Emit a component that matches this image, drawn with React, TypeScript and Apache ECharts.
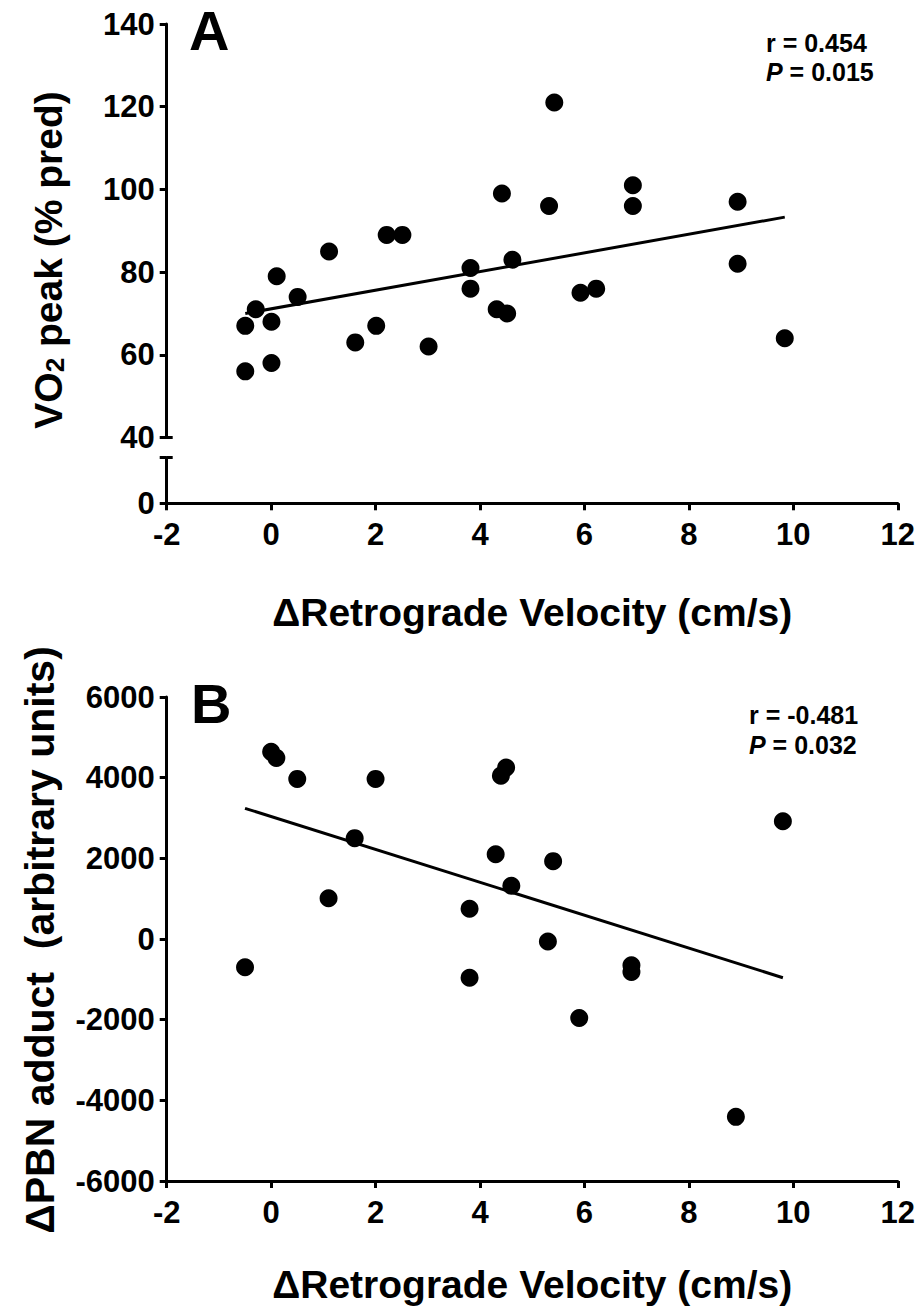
import React, { useEffect, useRef } from "react";
import * as echarts from "echarts";

// ---- Data ----
const velA = [-0.5, -0.5, -0.3, 0, 0, 0.1, 0.5, 1.1, 1.6, 2.0, 2.2, 2.5, 3.0, 3.8, 3.8, 4.3, 4.5, 4.4, 4.6, 5.3, 5.4, 5.9, 6.2, 6.9, 6.9, 8.9, 8.9, 9.8];
const vo2A = [67, 56, 71, 68, 58, 79, 74, 85, 63, 67, 89, 89, 62, 81, 76, 71, 70, 99, 83, 96, 121, 75, 76, 101, 96, 97, 82, 64];
const fitAx = [-0.5, 9.8];
const fitAy = [70, 93.3];

const velB = [-0.5, 0, 0.1, 0.5, 1.1, 1.6, 2.0, 3.8, 3.8, 4.3, 4.4, 4.5, 4.6, 5.3, 5.4, 5.9, 6.9, 6.9, 8.9, 9.8];
const pbnB = [-700, 4640, 4490, 3970, 1010, 2500, 3970, 750, -960, 2100, 4050, 4250, 1320, -60, 1930, -1960, -650, -820, -4410, 2920];
const fitBx = [-0.5, 9.8];
const fitBy = [3240, -960];

const xMin = -2;
const xMax = 12;
const xStep = 2;
const yAUpper = [40, 140, 20];
const yALower = [0, 11];
const yB = [-6000, 6000, 2000];

const statsA = ["r = 0.454", "{i|P} = 0.015"];
const statsB = ["r = -0.481", "{i|P} = 0.032"];
const xTitle = "\u0394Retrograde Velocity (cm/s)";
const yTitleB = "\u0394PBN adduct  (arbitrary units)";

const FONT = "'Liberation Sans', Arial, Helvetica, sans-serif";
const BLACK = "#000";

const zip = (xs: number[], ys: number[]) => xs.map((x, i) => [x, ys[i]]);

export default function App() {
  const ref = useRef<HTMLDivElement>(null);
  useEffect(() => {
    if (!ref.current) return;
    const chart = echarts.init(ref.current, null, { renderer: "svg" });

    const gx = 166.7;
    const gw = 733.3;
    const labelStyle = { color: BLACK, fontFamily: FONT, fontWeight: "bold" as const, fontSize: 31 };
    const lineStyle = { color: BLACK, width: 3 };
    const titleFont = 39;

    const xAxisVisible = (grid: number, gap: number) => ({
      type: "value",
      gridIndex: grid,
      min: xMin,
      max: xMax,
      interval: xStep,
      axisLine: { show: true, onZero: false, lineStyle },
      axisTick: { show: true, length: 7, lineStyle },
      axisLabel: { ...labelStyle, margin: 16 },
      splitLine: { show: false },
      name: xTitle,
      nameLocation: "middle",
      nameGap: gap,
      nameTextStyle: { color: BLACK, fontFamily: FONT, fontWeight: "bold", fontSize: titleFont },
    });

    const richTitle = {
      n: { fontFamily: FONT, fontWeight: "bold", fontSize: titleFont, lineHeight: 46, fill: BLACK, verticalAlign: "bottom" },
      s: { fontFamily: FONT, fontWeight: "bold", fontSize: 26, lineHeight: 38, fill: BLACK, verticalAlign: "bottom" },
    };

    const statText = (t: string, x: number, y: number) => ({
      type: "text",
      x,
      y,
      style: {
        text: t,
        fontFamily: FONT,
        fontWeight: "bold",
        fontSize: 25,
        fill: BLACK,
        align: "left",
        verticalAlign: "middle",
        rich: { i: { fontFamily: FONT, fontWeight: "bold", fontStyle: "italic", fontSize: 25, fill: BLACK } },
      },
    });

    const option: any = {
      animation: false,
      grid: [
        { left: gx, top: 24, width: gw, height: 413.5 },
        { left: gx, top: 457.7, width: gw, height: 45.6 },
        { left: gx, top: 697, width: gw, height: 484 },
      ],
      xAxis: [
        { type: "value", gridIndex: 0, min: xMin, max: xMax, interval: xStep, show: false },
        xAxisVisible(1, 90),
        xAxisVisible(2, 84),
      ],
      yAxis: [
        {
          type: "value",
          gridIndex: 0,
          position: "left",
          min: yAUpper[0],
          max: yAUpper[1],
          interval: yAUpper[2],
          axisLine: { show: true, onZero: false, lineStyle },
          axisTick: { show: true, length: 7, lineStyle },
          axisLabel: { ...labelStyle, margin: 12 },
          splitLine: { show: false },
        },
        {
          type: "value",
          gridIndex: 0,
          position: "left",
          min: yAUpper[0],
          max: yAUpper[1],
          axisLine: { show: false, onZero: false },
          axisTick: { show: true, inside: true, length: 6, lineStyle, customValues: [yAUpper[0]] },
          axisLabel: { show: false },
          splitLine: { show: false },
        },
        {
          type: "value",
          gridIndex: 1,
          position: "left",
          min: yALower[0],
          max: yALower[1],
          interval: yALower[1],
          axisLine: { show: true, onZero: false, lineStyle },
          axisTick: { show: true, length: 7, lineStyle },
          axisLabel: { ...labelStyle, margin: 12, formatter: (v: number) => (v === 0 ? "0" : "") },
          splitLine: { show: false },
        },
        {
          type: "value",
          gridIndex: 1,
          position: "left",
          min: yALower[0],
          max: yALower[1],
          axisLine: { show: false, onZero: false },
          axisTick: { show: true, inside: true, length: 6, lineStyle, customValues: [yALower[1]] },
          axisLabel: { show: false },
          splitLine: { show: false },
        },
        {
          type: "value",
          gridIndex: 2,
          position: "left",
          min: yB[0],
          max: yB[1],
          interval: yB[2],
          axisLine: { show: true, onZero: false, lineStyle },
          axisTick: { show: true, length: 7, lineStyle },
          axisLabel: { ...labelStyle, margin: 12, formatter: (v: number) => String(v) },
          splitLine: { show: false },
        },
      ],
      series: [
        {
          type: "line",
          xAxisIndex: 0,
          yAxisIndex: 0,
          data: zip(fitAx, fitAy),
          showSymbol: false,
          symbol: "none",
          lineStyle: { color: BLACK, width: 3 },
          z: 2,
        },
        {
          type: "scatter",
          xAxisIndex: 0,
          yAxisIndex: 0,
          data: zip(velA, vo2A),
          symbol: "circle",
          symbolSize: 18,
          itemStyle: { color: BLACK, opacity: 1 },
          z: 3,
        },
        {
          type: "line",
          xAxisIndex: 2,
          yAxisIndex: 4,
          data: zip(fitBx, fitBy),
          showSymbol: false,
          symbol: "none",
          lineStyle: { color: BLACK, width: 3 },
          z: 2,
        },
        {
          type: "scatter",
          xAxisIndex: 2,
          yAxisIndex: 4,
          data: zip(velB, pbnB),
          symbol: "circle",
          symbolSize: 18,
          itemStyle: { color: BLACK, opacity: 1 },
          z: 3,
        },
      ],
      graphic: [
        {
          type: "text",
          x: 45,
          y: 260,
          rotation: Math.PI / 2,
          style: {
            text: "{n|VO}{s|2}{n| peak (% pred)}",
            align: "center",
            verticalAlign: "middle",
            fill: BLACK,
            rich: richTitle,
          },
        },
        {
          type: "text",
          x: 40,
          y: 940,
          rotation: Math.PI / 2,
          style: {
            text: yTitleB,
            fontFamily: FONT,
            fontWeight: "bold",
            fontSize: 41,
            fill: BLACK,
            align: "center",
            verticalAlign: "middle",
          },
        },
        {
          type: "text",
          x: 189,
          y: 30,
          style: { text: "A", fontFamily: FONT, fontWeight: "bold", fontSize: 56, fill: BLACK, align: "left", verticalAlign: "middle" },
        },
        {
          type: "text",
          x: 191,
          y: 703,
          style: { text: "B", fontFamily: FONT, fontWeight: "bold", fontSize: 56, fill: BLACK, align: "left", verticalAlign: "middle" },
        },
        ...statsA.map((t, i) => statText(t, 766, 43 + i * 29)),
        ...statsB.map((t, i) => statText(t, 749, 715 + i * 30)),
      ],
    };

    chart.setOption(option);
    return () => chart.dispose();
  }, []);

  return (
    <div
      ref={ref}
      style={{ position: "absolute", left: 0, top: 0, width: 918, height: 1315, background: "#fff" }}
    />
  );
}
